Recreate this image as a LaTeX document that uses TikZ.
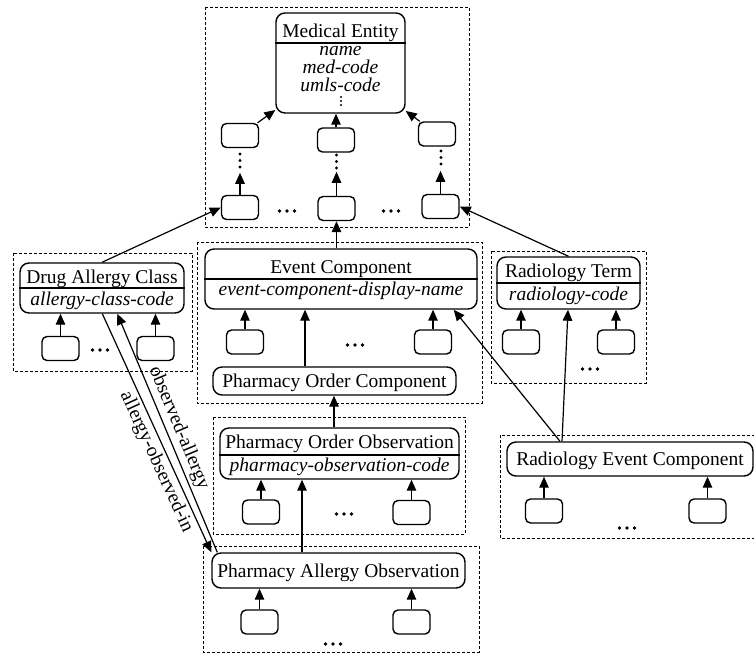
\documentclass[tikz,border=0pt]{standalone}
\usepackage{fontspec}
\setmainfont{Liberation Serif}
\usetikzlibrary{arrows.meta,calc}

\begin{document}
\begin{tikzpicture}[x=1pt,y=-1pt,
  every node/.style={font=\fontsize{19.5}{22}\selectfont, inner sep=0pt},
  ent/.style={draw, rounded corners=9pt, line width=1.4pt},
  oneline/.style={ent, text height=13.5pt, text depth=0pt},
  leaf/.style={draw, rounded corners=5pt, line width=1.4pt, minimum width=37pt, minimum height=24pt},
  grp/.style={draw, line width=0.9pt, dash pattern=on 3pt off 2pt},
  link/.style={line width=1.2pt, -{Triangle[length=11pt,width=9.5pt]}},
  attr/.style={anchor=base, font=\fontsize{19.5}{22}\selectfont\itshape},
  head/.style={anchor=base},
  rel/.style={font=\fontsize{19.5}{22}\selectfont, sloped, inner sep=3pt},
  hdots/.pic={\foreach \i in {-1,0,1} \fill (\i*7.5,0) circle (1.8);},
  vdotsbig/.pic={\foreach \i in {-1,0,1} \fill (0,\i*6.5) circle (1.6);},
]
\useasboundingbox (0,0) rectangle (754,656);

% ---------- group boxes ----------
\draw[grp] (205,7) rectangle (469,227);
\draw[grp] (13,253) rectangle (192,371);
\draw[grp] (197,242) rectangle (482,403);
\draw[grp] (491,251) rectangle (646,383);
\draw[grp] (213,417) rectangle (465,534);
\draw[grp] (203,546) rectangle (479,652);
\draw[grp] (500,435) rectangle (762,538);

% ---------- Medical Entity ----------
\node[ent, minimum width=129pt, minimum height=100pt] (me) at (340.5,63) {};
\draw[line width=1.1pt] (me.west |- 0,43) -- (me.east |- 0,43);
\node[head] (me-t) at (340.5,37) {Medical Entity};
\node[attr] (me-a1) at (340.5,55) {name};
\node[attr] (me-a2) at (340.5,73) {med-code};
\node[attr] (me-a3) at (340.5,91) {umls-code};
\foreach \yy in {97,101,105} \fill (341,\yy) circle (1.1);

\node[leaf] (a1) at (240,135.5) {};
\node[leaf] (a2) at (336,140) {};
\node[leaf] (a3) at (437,134) {};
\node[leaf] (b1) at (240,207.5) {};
\node[leaf] (b2) at (336.5,208.5) {};
\node[leaf] (b3) at (440.5,206.5) {};

\draw[link] (a1) -- (me);
\draw[link] (a3) -- (me);
\draw[link] (a2.north) -- (a2.north |- me.south);

\coordinate (u1) at ($(b1.north)+(0,-22)$);
\coordinate (u2) at ($(b2.north)+(0,-24)$);
\coordinate (u3) at ($(b3.north)+(0,-23)$);
\draw[link] (b1.north) -- (u1);
\draw[link] (b2.north) -- (u2);
\draw[link] (b3.north) -- (u3);
\pic at (240,160.5) {vdotsbig};
\pic at (336.5,161.5) {vdotsbig};
\pic at (441,157.5) {vdotsbig};
\pic at (287,211) {hdots};
\pic at (391,211) {hdots};

% ---------- Drug Allergy Class ----------
\node[ent, minimum width=164pt, minimum height=50pt] (dac) at (102,288) {};
\draw[line width=1.1pt] (dac.west |- 0,288) -- (dac.east |- 0,288);
\node[head] (dac-t) at (102,283) {Drug Allergy Class};
\node[attr] (dac-a) at (102,305) {allergy-class-code};
\node[leaf] (c1) at (60.5,348.5) {};
\node[leaf] (c2) at (155.5,348.5) {};
\draw[link] (c1.north) -- (c1.north |- dac.south);
\draw[link] (c2.north) -- (c2.north |- dac.south);
\pic at (100,350) {hdots};

% ---------- Event Component ----------
\node[ent, minimum width=272pt, minimum height=60pt] (ec) at (341,279) {};
\draw[line width=1.1pt] (ec.west |- 0,279) -- (ec.east |- 0,279);
\node[head] (ec-t) at (341,273) {Event Component};
\node[attr] (ec-a) at (341,295) {event-component-display-name};
\node[leaf] (e1) at (245,342) {};
\node[leaf] (e2) at (433,342) {};
\draw[link] (e1.north) -- (e1.north |- ec.south);
\draw[link] (e2.north) -- (e2.north |- ec.south);
\pic at (355,345) {hdots};
\node[oneline, minimum width=243pt, minimum height=28pt] (poc) at (334.5,381) {Pharmacy Order Component};
\coordinate (p1) at ($(poc.north)+(-29.5,0)$);
\draw[link] (p1) -- (p1 |- ec.south);

% ---------- Radiology Term ----------
\node[ent, minimum width=143pt, minimum height=52pt] (rt) at (568.5,283) {};
\draw[line width=1.1pt] (rt.west |- 0,283) -- (rt.east |- 0,283);
\node[head] (rt-t) at (568.5,277) {Radiology Term};
\node[attr] (rt-a) at (568.5,300) {radiology-code};
\node[leaf] (r1) at (521,342) {};
\node[leaf] (r2) at (616,342) {};
\draw[link] (r1.north) -- (r1.north |- rt.south);
\draw[link] (r2.north) -- (r2.north |- rt.south);
\pic at (590,369) {hdots};

% ---------- Pharmacy Order Observation ----------
\node[ent, minimum width=239pt, minimum height=51pt] (poo) at (339.5,453.5) {};
\draw[line width=1.1pt] (poo.west |- 0,455) -- (poo.east |- 0,455);
\node[head] (poo-t) at (339.5,448) {Pharmacy Order Observation};
\node[attr] (poo-a) at (339.5,471) {pharmacy-observation-code};
\node[leaf] (o1) at (261,512) {};
\node[leaf] (o2) at (411.5,512.5) {};
\draw[link] (o1.north) -- (o1.north |- poo.south);
\draw[link] (o2.north) -- (o2.north |- poo.south);
\pic at (344,514) {hdots};
\coordinate (p2) at (poo.north -| 334,0);
\draw[link] (p2) -- (p2 |- poc.south);

% ---------- Pharmacy Allergy Observation ----------
\node[oneline, minimum width=253pt, minimum height=35pt] (pao) at (338.5,570.5) {Pharmacy Allergy Observation};
\node[leaf] (q1) at (259.5,622) {};
\node[leaf] (q2) at (411.5,622) {};
\draw[link] (q1.north) -- (q1.north |- pao.south);
\draw[link] (q2.north) -- (q2.north |- pao.south);
\pic at (333,644) {hdots};
\coordinate (p3) at (pao.north -| 302,0);
\draw[link] (p3) -- (p3 |- poo.south);

% ---------- Radiology Event Component ----------
\node[oneline, minimum width=246pt, minimum height=34pt] (rec) at (630,459) {Radiology Event Component};
\node[leaf] (s1) at (544,511) {};
\node[leaf] (s2) at (707.5,511) {};
\draw[link] (s1.north) -- (s1.north |- rec.south);
\draw[link] (s2.north) -- (s2.north |- rec.south);
\pic at (627,528) {hdots};
\coordinate (p4) at ($(rec.north)+(-68,0)$);
\coordinate (p5) at ($(rec.north)+(-70,0)$);
\draw[link] (p4) -- ($(rt.south)+(-0.5,0)$);
\draw[link] (p5) -- ($(ec.south east)+(-24,0)$);

% ---------- links into the Medical Entity group ----------
\draw[link] (dac.north) -- (b1.west);
\draw[link] (rt.north) -- (b3.east);
\draw[link] (b2.south |- ec.north) -- (b2.south);

% ---------- allergy relations ----------
\coordinate (d1) at ($(dac.south west)+(83,0)$);
\coordinate (d2) at ($(dac.south west)+(98,0)$);
\coordinate (k1) at ($(pao.north west)+(6,0)$);
\draw[link] (d1) -- node[rel, below, pos=0.6] (lbl-in) {allergy-observed-in} (pao.north west);
\draw[link] (k1) -- node[rel, above, pos=0.5] (lbl-obs) {observed-allergy} (d2);

\end{tikzpicture}
\end{document}
